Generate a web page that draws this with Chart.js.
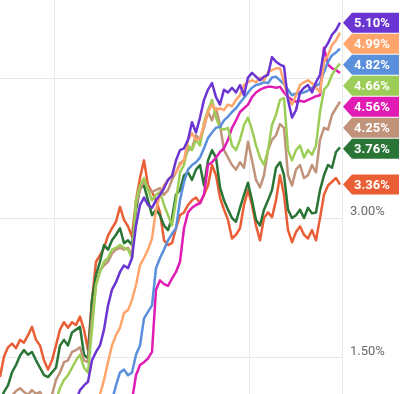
<!DOCTYPE html>
<html>
<head>
<meta charset="utf-8">
<script src="https://cdn.jsdelivr.net/npm/chart.js@4.4.0/dist/chart.umd.min.js"></script>
<style>
  html, body { margin: 0; padding: 0; background: #fff; }
  #wrap { width: 418px; height: 394px; }
</style>
</head>
<body>
<div id="wrap"><canvas id="chart" width="418" height="394"></canvas></div>
<script>
// Values in %, oldest first. Shorter series start later (padded with nulls at the front).
const purple = [0.94,1.04,1.15,1.20,1.24,1.47,1.56,1.63,1.80,2.06,2.23,2.31,2.42,2.49,2.46,2.57,2.92,3.14,3.22,3.14,3.11,3.19,3.25,3.32,3.41,3.45,3.62,3.73,3.75,3.84,4.03,3.92,4.08,4.27,4.38,4.45,4.30,4.22,4.38,4.35,4.40,4.35,4.43,4.32,4.51,4.56,4.52,4.48,4.52,4.54,4.73,4.68,4.65,4.63,4.27,4.08,4.16,4.35,4.40,4.43,4.35,4.46,4.54,4.81,4.88,4.97,5.02,5.10]
const lightOrange = [0.83,1.10,1.26,1.45,1.63,1.74,1.82,1.98,2.01,2.12,2.28,2.49,2.57,2.66,2.78,3.09,3.25,3.35,3.41,3.46,3.49,3.57,3.62,3.84,3.91,3.84,3.86,4.00,4.14,4.22,4.16,4.18,4.16,4.22,4.20,4.27,4.32,4.43,4.46,4.48,4.46,4.51,4.48,4.57,4.59,4.61,4.61,4.46,4.29,4.22,4.32,4.43,4.46,4.48,4.45,4.40,4.35,4.68,4.75,4.86,4.91,4.99]
const blue = [0.83,1.04,1.20,1.34,1.37,1.31,1.34,1.53,1.63,1.92,1.99,2.06,2.46,2.57,2.66,2.76,2.83,2.89,3.19,3.39,3.52,3.57,3.60,3.65,3.75,3.86,3.92,3.97,3.98,4.05,4.09,4.14,4.18,4.24,4.29,4.35,4.40,4.43,4.44,4.46,4.45,4.51,4.52,4.48,4.44,4.38,4.32,4.34,4.34,4.35,4.37,4.40,4.42,4.45,4.57,4.68,4.75,4.78,4.82]
const lightGreen = [1.04,1.17,1.26,1.31,1.39,1.47,1.53,1.39,1.34,1.80,2.28,2.42,2.53,2.57,2.66,2.68,2.71,2.68,2.66,2.57,3.19,3.35,3.43,3.30,3.19,3.25,3.28,3.14,3.03,2.92,3.19,3.49,3.57,3.78,3.73,3.84,3.78,4.03,4.16,4.27,4.08,3.97,3.95,3.97,3.78,3.73,3.84,4.00,4.08,3.95,3.78,3.65,3.57,3.73,4.00,4.11,4.27,4.29,3.73,3.62,3.73,3.78,3.65,3.73,3.68,3.78,4.14,4.38,4.43,4.54,4.61,4.66]
const magenta = [0.83,1.04,1.31,1.42,1.45,1.49,1.56,2.23,2.33,2.29,2.27,2.35,2.42,2.53,2.89,3.06,3.11,3.14,3.16,3.25,3.57,3.60,3.65,3.71,3.75,3.84,3.97,4.05,4.14,4.18,4.22,4.30,4.35,4.38,4.40,4.41,4.41,4.40,4.41,4.35,4.30,4.27,4.25,4.26,4.25,4.27,4.29,4.31,4.32,4.83,4.65,4.61,4.59,4.56]
const tan = [0.94,0.99,1.04,1.09,1.14,1.17,1.13,1.10,1.15,1.11,1.13,1.06,1.04,1.10,1.26,1.34,1.45,1.47,1.56,1.58,1.61,1.47,1.45,1.92,2.28,2.44,2.49,2.53,2.62,2.66,2.68,2.66,2.68,2.59,3.14,3.30,3.41,3.32,3.28,3.30,3.32,3.25,3.30,3.41,3.49,3.59,3.62,3.73,3.75,3.89,3.84,3.97,4.14,4.05,4.18,4.00,3.73,3.65,3.57,3.52,3.60,3.54,3.82,3.62,3.41,3.33,3.46,3.73,3.84,3.89,4.01,3.97,3.46,3.35,3.52,3.57,3.43,3.46,3.57,3.49,3.84,3.97,3.95,4.11,4.18,4.25]
const darkGreen = [1.04,1.13,1.20,1.34,1.42,1.52,1.58,1.53,1.56,1.47,1.39,1.31,1.29,1.34,1.39,1.63,1.69,1.63,1.77,1.80,1.83,1.53,1.49,2.12,2.39,2.53,2.71,2.66,2.76,2.82,2.89,2.73,2.76,2.71,3.09,3.32,3.35,3.19,3.03,3.09,3.03,2.92,2.87,3.00,3.25,3.30,3.46,3.49,3.41,3.52,3.57,3.35,3.62,3.73,3.65,3.33,3.19,3.09,3.00,2.96,3.11,3.25,3.38,3.19,2.98,2.92,3.09,3.19,3.30,3.54,3.60,3.46,3.09,3.00,3.03,3.09,3.00,3.11,3.05,3.06,3.30,3.46,3.57,3.54,3.71,3.76]
const redOrange = [1.29,1.51,1.61,1.65,1.60,1.69,1.66,1.74,1.83,1.69,1.63,1.47,1.37,1.47,1.63,1.80,1.88,1.82,1.88,1.85,1.94,1.80,1.58,2.12,2.53,2.60,2.68,2.81,2.89,2.96,3.12,2.98,2.91,2.80,3.19,3.43,3.62,3.35,3.28,3.19,3.06,2.76,2.71,2.73,2.89,3.03,3.06,3.14,3.19,3.22,3.16,3.25,3.35,3.57,3.46,3.22,3.09,2.98,2.78,2.82,2.89,3.14,3.30,3.14,2.92,2.76,3.00,3.06,3.01,3.19,3.46,3.25,2.87,2.74,2.85,2.91,2.82,2.78,2.87,2.76,3.00,3.25,3.35,3.39,3.43,3.36]

const seriesValues = [purple, lightOrange, blue, lightGreen, magenta, tan, darkGreen, redOrange]
const seriesColors = ["#6a35d3", "#ffa56c", "#5a8fdc", "#9ccd56", "#e01cb4", "#c0937a", "#2a7536", "#ea5e35"]

const yTicks = [1.5, 3.0, 4.5]
const xGridTicks = [13.5, 62.25, 85.5]

const N = tan.length
const dayIndex = Array.from({ length: N }, (_, i) => i)

function padFront(arr) {
  return Array(Math.max(0, N - arr.length)).fill(null).concat(arr)
}

// end-of-line value tags on the right axis, pushed apart so they don't overlap
const endTags = {
  id: "endTags",
  afterDraw(chart) {
    const ctx = chart.ctx
    const yScale = chart.scales.y
    const right = chart.chartArea.right
    const tags = chart.data.datasets.map((ds) => {
      const v = ds.data[ds.data.length - 1]
      return { v, color: ds.borderColor, py: yScale.getPixelForValue(v) }
    }).sort((a, b) => a.py - b.py)
    let prev = -Infinity
    tags.forEach((t) => {
      t.ty = Math.max(t.py, prev + 21)
      prev = t.ty
    })
    ctx.save()
    tags.forEach((t) => {
      ctx.fillStyle = t.color
      ctx.beginPath()
      ctx.moveTo(right + 1, t.ty)
      ctx.lineTo(right + 10, t.ty - 10)
      ctx.lineTo(right + 57, t.ty - 10)
      ctx.lineTo(right + 57, t.ty + 10)
      ctx.lineTo(right + 10, t.ty + 10)
      ctx.closePath()
      ctx.fill()
      ctx.fillStyle = "#fff"
      ctx.font = "bold 13px Roboto"
      ctx.textBaseline = "middle"
      ctx.textAlign = "left"
      ctx.fillText(t.v.toFixed(2) + "%", right + 12, t.ty + 1)
    })
    ctx.restore()
  },
}

new Chart(document.getElementById("chart"), {
  type: "line",
  data: {
    labels: dayIndex,
    datasets: seriesValues.map((vals, i) => ({
      data: padFront(vals),
      borderColor: seriesColors[i],
      borderWidth: 2.5,
      pointRadius: 0,
      tension: 0,
      borderJoinStyle: "round",
    })),
  },
  options: {
    responsive: false,
    animation: false,
    layout: { padding: 0 },
    plugins: { legend: { display: false }, tooltip: { enabled: false } },
    scales: {
      x: {
        type: "linear",
        min: 0,
        max: N - 0.5,
        afterFit(s) {
          s.height = 0
          s.paddingLeft = 0
          s.paddingRight = 0
        },
        afterBuildTicks(s) { s.ticks = xGridTicks.map((v) => ({ value: v })) },
        grid: { color: "#ebebeb", drawTicks: false },
        border: { display: false },
        ticks: { display: false },
      },
      y: {
        position: "right",
        min: 1.108,
        max: 5.344,
        afterFit(s) {
          s.width = 76
          s.paddingTop = 0
          s.paddingBottom = 0
        },
        afterBuildTicks(s) { s.ticks = yTicks.map((v) => ({ value: v })) },
        grid: { color: "#e6e6e6", drawTicks: false },
        border: { display: false },
        ticks: {
          padding: 8,
          labelOffset: -6,
          color: "#6b6b6b",
          font: { family: "Roboto", size: 13 },
          callback: (v) => (v === 4.5 ? "" : v.toFixed(2) + "%"),
        },
      },
    },
  },
  plugins: [endTags],
})
</script>
</body>
</html>
